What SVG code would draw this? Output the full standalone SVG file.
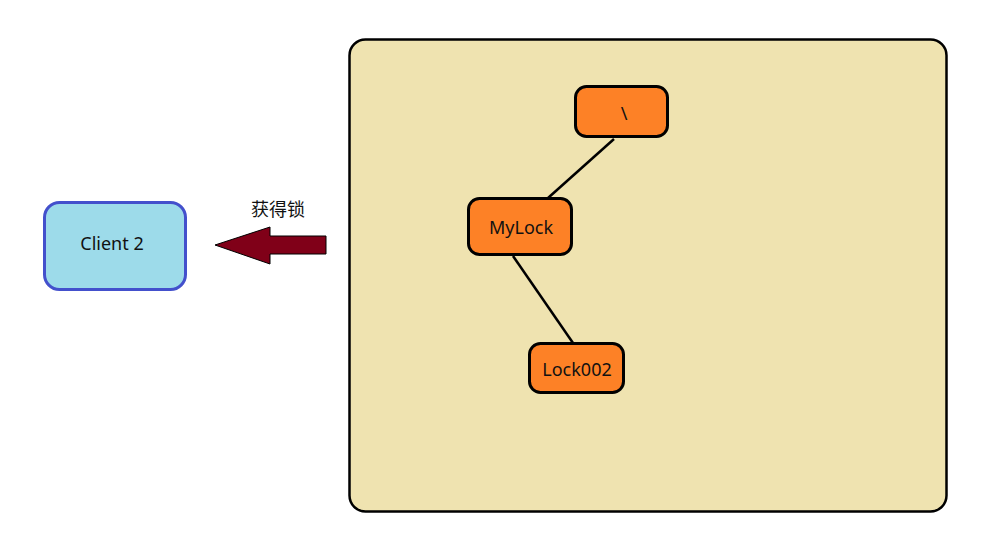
<svg xmlns="http://www.w3.org/2000/svg" width="994" height="559" viewBox="0 0 994 559">
<style>
.lbl{font-family:"Noto Sans","Open Sans","Liberation Sans",sans-serif;font-size:18px;fill:#111;text-anchor:middle;dominant-baseline:central}
.cjk{font-family:"Noto Sans CJK SC","Noto Sans",sans-serif;font-size:18px;fill:#111;text-anchor:middle;dominant-baseline:central}
.node{fill:#fd8126;stroke:#000;stroke-width:3}
.edge{stroke:#000;stroke-width:2.5;fill:none}
</style>
<rect width="994" height="559" fill="#fff"/>
<g id="container">
<rect x="349.5" y="39.5" width="597" height="472" rx="16" fill="#efe3b0" stroke="#000" stroke-width="2.5"/>
</g>
<g id="connectors">
<line class="edge" x1="614" y1="139" x2="548" y2="198"/>
<line class="edge" x1="513" y1="256" x2="573" y2="343"/>
<polygon points="215,245 270,227 270,236 326,236 326,254 270,254 270,264" fill="#800018" stroke="#000" stroke-width="1"/>
<text class="cjk" x="278" y="208">获得锁</text>
</g>
<g id="client2">
<rect x="44.5" y="202.5" width="141" height="87" rx="15" fill="#9ddbea" stroke="#4350cc" stroke-width="3"/>
<text class="lbl" x="112" y="243">Client 2</text>
</g>
<g id="root">
<rect class="node" x="575.5" y="86.5" width="92" height="50" rx="11"/>
<text class="lbl" x="624" y="113">\</text>
</g>
<g id="mylock">
<rect class="node" x="468.5" y="198.5" width="103" height="56" rx="11"/>
<text class="lbl" x="521" y="227">MyLock</text>
</g>
<g id="lock002">
<rect class="node" x="529.5" y="343.5" width="94" height="49" rx="11"/>
<text class="lbl" x="577" y="369">Lock002</text>
</g>
</svg>
